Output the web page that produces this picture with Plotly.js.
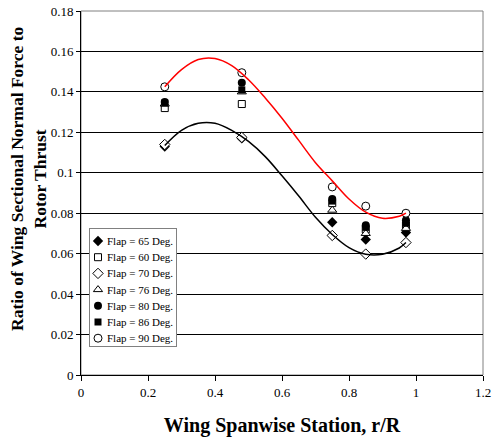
<!DOCTYPE html>
<html>
<head>
<meta charset="utf-8">
<script src="https://cdn.plot.ly/plotly-3.0.1.min.js"></script>
<style>html,body{margin:0;padding:0;background:#fff;}#chart{width:494px;height:438px;}</style>
</head>
<body>
<div id="chart"></div>
<script>
// ---- data ----
const station = [0.25, 0.48, 0.75, 0.85, 0.97];
const flap65 = [0.113, 0.117, 0.0755, 0.067, 0.0705];
const flap60 = [0.132, 0.134, 0.085, 0.072, 0.074];
const flap70 = [0.114, 0.1175, 0.069, 0.0598, 0.0655];
const flap76 = [0.134, 0.140, 0.0815, 0.070, 0.0725];
const flap80 = [0.135, 0.1445, 0.087, 0.074, 0.0765];
const flap86 = [0.1345, 0.141, 0.086, 0.073, 0.075];
const flap90 = [0.1425, 0.1495, 0.093, 0.0835, 0.080];
const seriesNames = ['Flap = 65 Deg.', 'Flap = 60 Deg.', 'Flap = 70 Deg.', 'Flap = 76 Deg.', 'Flap = 80 Deg.', 'Flap = 86 Deg.', 'Flap = 90 Deg.'];

// trend curves
const trendX = [0.25, 0.30, 0.35, 0.40, 0.45, 0.50, 0.55, 0.60, 0.65, 0.70, 0.75, 0.80, 0.85, 0.90, 0.95, 0.97];
const trend90 = [0.1425, 0.151, 0.156, 0.1565, 0.153, 0.146, 0.137, 0.127, 0.116, 0.105, 0.096, 0.087, 0.0805, 0.0775, 0.0785, 0.080];
const trend70 = [0.1135, 0.121, 0.1245, 0.1245, 0.121, 0.1155, 0.108, 0.0985, 0.0885, 0.078, 0.0695, 0.063, 0.0597, 0.0597, 0.0628, 0.0655];

const xTickVals = [0, 0.2, 0.4, 0.6, 0.8, 1, 1.2];
const xTickText = ['0', '0.2', '0.4', '0.6', '0.8', '1', '1.2'];
const yTickVals = [0, 0.02, 0.04, 0.06, 0.08, 0.1, 0.12, 0.14, 0.16, 0.18];
const yTickText = ['0', '0.02', '0.04', '0.06', '0.08', '0.1', '0.12', '0.14', '0.16', '0.18'];

// ---- styles ----
const seriesValues = [flap65, flap60, flap70, flap76, flap80, flap86, flap90];
const markerStyles = [
  {symbol: 'diamond', size: 8, color: '#000', line: {color: '#000', width: 0}},
  {symbol: 'square', size: 7, color: '#fff', line: {color: '#000', width: 1}},
  {symbol: 'diamond', size: 8, color: '#fff', line: {color: '#000', width: 1}},
  {symbol: 'triangle-up', size: 8, color: '#fff', line: {color: '#000', width: 1}},
  {symbol: 'circle', size: 8, color: '#000', line: {color: '#000', width: 0}},
  {symbol: 'square', size: 7, color: '#000', line: {color: '#000', width: 0}},
  {symbol: 'circle', size: 8, color: '#fff', line: {color: '#000', width: 1}}
];

const FONT = 'Liberation Serif, Times New Roman, serif';
const traces = [];
seriesValues.forEach((vals, i) => {
  traces.push({x: station, y: vals, type: 'scatter', mode: 'markers', name: seriesNames[i],
    marker: markerStyles[i], showlegend: false, hoverinfo: 'x+y+name'});
});
traces.push({x: trendX, y: trend90, type: 'scatter', mode: 'lines', line: {color: '#ff0000', width: 1.5, shape: 'spline'}, showlegend: false, hoverinfo: 'skip'});
traces.push({x: trendX, y: trend70, type: 'scatter', mode: 'lines', line: {color: '#000', width: 1.5, shape: 'spline'}, showlegend: false, hoverinfo: 'skip'});

// custom legend box (own small axes)
const LEG_W = 86, LEG_H = 117, rowTop = 105, rowStep = 16.2, symX = 8, txtX = 15;
const annotations = [];
seriesNames.forEach((nm, i) => {
  const yy = rowTop - i * rowStep;
  traces.push({x: [symX], y: [yy], xaxis: 'x2', yaxis: 'y2', type: 'scatter', mode: 'markers',
    marker: markerStyles[i], showlegend: false, hoverinfo: 'skip'});
  annotations.push({x: txtX, y: yy, xref: 'x2', yref: 'y2', text: nm, showarrow: false,
    xanchor: 'left', yanchor: 'middle', font: {family: FONT, size: 11, color: '#000'}});
});

annotations.push({
  text: '<b>Ratio of Wing Sectional Normal Force to<br>Rotor Thrust</b>',
  xref: 'paper', yref: 'paper', x: -0.132, y: 0.541, xanchor: 'center', yanchor: 'middle',
  textangle: -90, showarrow: false, font: {family: FONT, size: 17.5, color: '#000'}
});

const layout = {
  width: 494, height: 438,
  margin: {l: 81, r: 11, t: 11, b: 63},
  paper_bgcolor: '#fff', plot_bgcolor: '#fff',
  font: {family: FONT, size: 13, color: '#000'},
  showlegend: false,
  xaxis: {range: [0, 1.2], tickvals: xTickVals, ticktext: xTickText, showgrid: false, zeroline: false,
    showline: true, linecolor: '#000', linewidth: 1, ticks: 'outside', ticklen: 5, tickcolor: '#000',
    tickfont: {family: FONT, size: 13}, fixedrange: true,
    title: {text: '<b>Wing Spanwise Station, r/R</b>', font: {family: FONT, size: 20}, standoff: 19}},
  xaxis3: {overlaying: 'x', anchor: 'y', range: [0, 1.2], tickvals: xTickVals, showticklabels: false,
    showgrid: false, zeroline: false, showline: false, ticks: 'inside', ticklen: 4, tickcolor: '#000', fixedrange: true},
  yaxis: {range: [0, 0.18], tickvals: yTickVals, ticktext: yTickText, showgrid: true, gridcolor: '#000', gridwidth: 1,
    zeroline: false, showline: true, linecolor: '#000', linewidth: 1, ticks: 'outside', ticklen: 4, tickcolor: '#000',
    tickfont: {family: FONT, size: 13}, fixedrange: true},
  xaxis2: {domain: [9/402, 95/402], range: [0, LEG_W], anchor: 'y2', showgrid: false, zeroline: false,
    showticklabels: false, ticks: '', showline: true, mirror: true, linecolor: '#808080', linewidth: 1, fixedrange: true},
  yaxis2: {domain: [29/364, 146/364], range: [0, LEG_H], anchor: 'x2', showgrid: false, zeroline: false,
    showticklabels: false, ticks: '', showline: true, mirror: true, linecolor: '#808080', linewidth: 1, fixedrange: true},
  shapes: [{type: 'rect', xref: 'paper', yref: 'paper', x0: 0, x1: 1, y0: 0, y1: 1,
    line: {color: '#808080', width: 1}, layer: 'below'}],
  annotations: annotations
};

Plotly.newPlot('chart', traces, layout, {displayModeBar: false, staticPlot: true});
</script>
</body>
</html>
